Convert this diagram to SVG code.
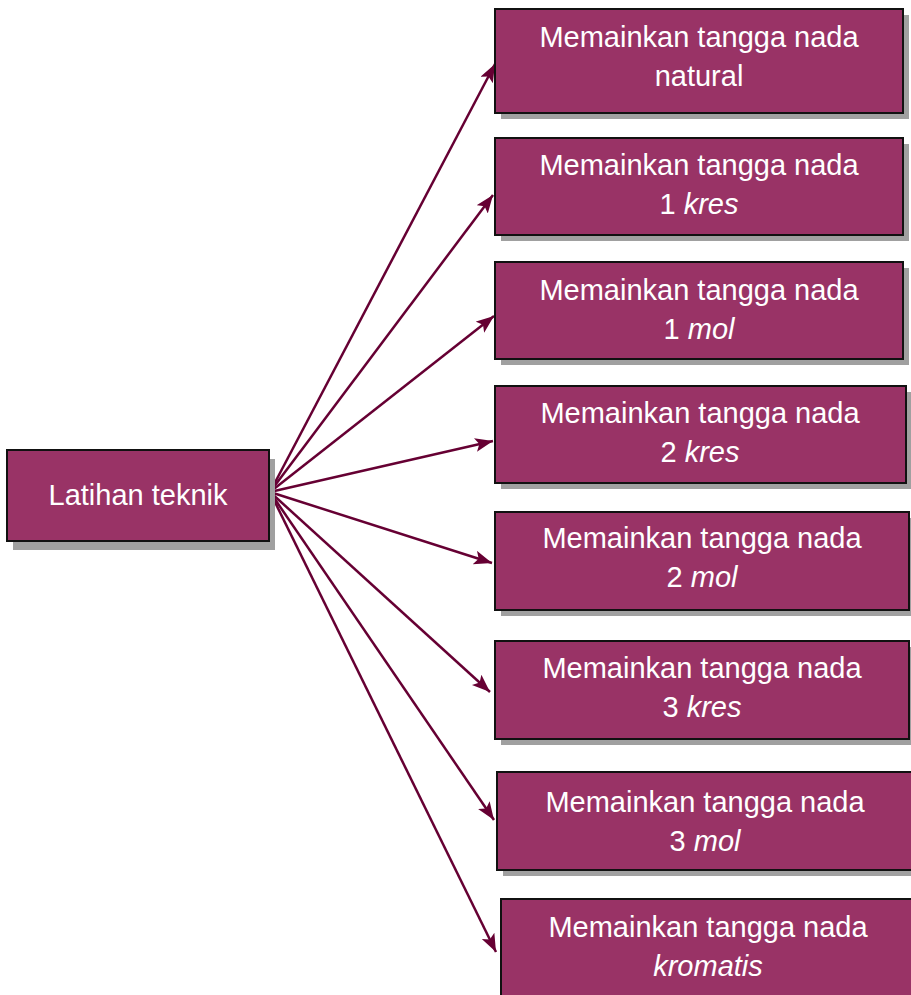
<svg xmlns="http://www.w3.org/2000/svg" width="911" height="995" viewBox="0 0 911 995">
<style>
.shadow{fill:#a0a0a0}
.box{fill:#993366;stroke:#111;stroke-width:2}
.t{font-family:"Liberation Sans",Arial,sans-serif;font-size:29px;fill:#fff;text-anchor:middle}
.i{font-style:italic}
.c{stroke:#660033;stroke-width:2.5;fill:none;marker-end:url(#ah)}
</style>
<defs>
<marker id="ah" markerUnits="userSpaceOnUse" markerWidth="20" markerHeight="16" refX="18" refY="7" orient="auto">
<path d="M0,0 L18,7 L0,14 L4,7 Z" fill="#660033"/>
</marker>
</defs>
<rect width="911" height="995" fill="#fff"/>
<g id="connectors">
<line class="c" x1="270" y1="492" x2="495" y2="64"/>
<line class="c" x1="270" y1="492" x2="493" y2="195"/>
<line class="c" x1="270" y1="492" x2="494" y2="316"/>
<line class="c" x1="270" y1="492" x2="493" y2="441"/>
<line class="c" x1="270" y1="492" x2="492" y2="563"/>
<line class="c" x1="270" y1="492" x2="490" y2="692"/>
<line class="c" x1="270" y1="492" x2="494" y2="820"/>
<line class="c" x1="270" y1="492" x2="496" y2="952"/>
</g>
<g id="root">
<rect class="shadow" x="13" y="459" width="262" height="91"/>
<rect class="box" x="7" y="450" width="262" height="91"/>
<text class="t" x="138" y="505">Latihan teknik</text>
</g>
<g id="n1">
<rect class="shadow" x="501" y="15" width="408" height="104"/>
<rect class="box" x="495" y="9" width="408" height="104"/>
<text class="t" x="699" y="47">Memainkan tangga nada</text>
<text class="t" x="699" y="86">natural</text>
</g>
<g id="n2">
<rect class="shadow" x="501" y="144" width="408" height="97"/>
<rect class="box" x="495" y="138" width="408" height="97"/>
<text class="t" x="699" y="175">Memainkan tangga nada</text>
<text class="t" x="699" y="214">1 <tspan class="i">kres</tspan></text>
</g>
<g id="n3">
<rect class="shadow" x="501" y="268" width="408" height="97"/>
<rect class="box" x="495" y="262" width="408" height="97"/>
<text class="t" x="699" y="300">Memainkan tangga nada</text>
<text class="t" x="699" y="339">1 <tspan class="i">mol</tspan></text>
</g>
<g id="n4">
<rect class="shadow" x="501" y="392" width="410" height="97"/>
<rect class="box" x="495" y="386" width="411" height="97"/>
<text class="t" x="700" y="423">Memainkan tangga nada</text>
<text class="t" x="700" y="462">2 <tspan class="i">kres</tspan></text>
</g>
<g id="n5">
<rect class="shadow" x="501" y="518" width="410" height="98"/>
<rect class="box" x="495" y="512" width="414" height="98"/>
<text class="t" x="702" y="548">Memainkan tangga nada</text>
<text class="t" x="702" y="587">2 <tspan class="i">mol</tspan></text>
</g>
<g id="n6">
<rect class="shadow" x="501" y="647" width="410" height="98"/>
<rect class="box" x="495" y="641" width="414" height="98"/>
<text class="t" x="702" y="678">Memainkan tangga nada</text>
<text class="t" x="702" y="717">3 <tspan class="i">kres</tspan></text>
</g>
<g id="n7">
<rect class="shadow" x="503" y="778" width="410" height="98"/>
<rect class="box" x="497" y="772" width="416" height="98"/>
<text class="t" x="705" y="812">Memainkan tangga nada</text>
<text class="t" x="705" y="851">3 <tspan class="i">mol</tspan></text>
</g>
<g id="n8">
<rect class="shadow" x="507" y="905" width="410" height="100"/>
<rect class="box" x="501" y="899" width="416" height="100"/>
<text class="t" x="708" y="937">Memainkan tangga nada</text>
<text class="t i" x="708" y="976">kromatis</text>
</g>
</svg>
